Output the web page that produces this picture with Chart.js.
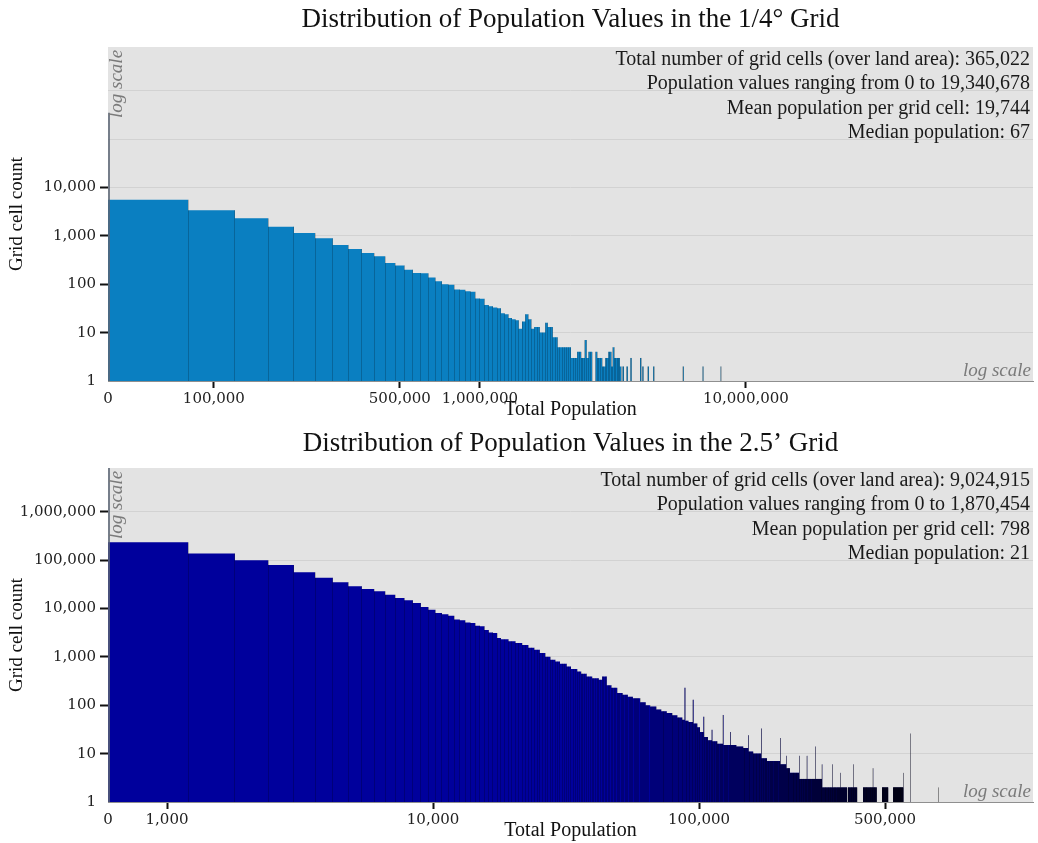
<!DOCTYPE html>
<html>
<head>
<meta charset="utf-8">
<script src="https://cdn.jsdelivr.net/npm/chart.js@4"></script>
<style>
  body { margin: 0; background: #fff; }
  .box { position: absolute; left: 0; width: 1038px; }
  #boxTop { top: 0; height: 422px; }
  #boxBottom { top: 422px; height: 421px; }
</style>
</head>
<body>
<div class="box" id="boxTop"><canvas id="chartTop"></canvas></div>
<div class="box" id="boxBottom"><canvas id="chartBottom"></canvas></div>
<script>
// shared y axis (grid cell count, log scale)
const yMin = 1;
const yMax = 8000000;
const yTickValues = [1, 10, 100, 1000, 10000, 100000, 1000000];

// ---- 1/4 degree grid ----
const topTitle = 'Distribution of Population Values in the 1/4° Grid';
const topStats = [
  'Total number of grid cells (over land area): 365,022',
  'Population values ranging from 0 to 19,340,678',
  'Mean population per grid cell: 19,744',
  'Median population: 67'
];
const topBinWidth = 40000;
const topZeroBin = 350000;   // cells in the first bin (from 0), drawn as the line on the left edge
// bin index where a run starts (bin k covers k*width .. (k+1)*width) and its count
const topBinStart = [1, 2, 3, 4, 5, 6, 7, 8, 9, 10, 11, 12, 13, 14, 15, 16, 17, 18, 19, 20,
  21, 22, 23, 24, 25, 26, 27, 28, 29, 30, 31, 32, 33, 34, 35, 36, 37, 38, 39, 40,
  41, 42, 43, 44, 45, 46, 47, 48, 49, 50, 51, 52, 53, 54, 55, 56, 57, 58, 59, 60,
  61, 62, 63, 64, 65, 66, 68, 69, 72, 74, 76, 78, 79, 80, 84, 85, 86, 87, 89, 90,
  92, 93, 100, 101, 102, 103, 107, 108, 112, 113, 145, 146, 172, 173, 201];
const topCounts = [5600, 3400, 2300, 1550, 1140, 890, 650, 535, 442, 378, 275, 245, 200, 171, 168, 137, 115, 100, 98, 78,
  77, 72, 70, 51, 50, 37, 35, 33, 32, 25, 24, 20, 19, 18, 12, 17, 24, 19, 12, 13,
  13, 10, 10, 16, 13, 13, 8, 8, 5, 5, 5, 5, 5, 5, 3, 3, 3, 4, 4, 3,
  3, 7, 3, 4, 4, 0, 4, 3, 2, 3, 4, 2, 5, 3, 2, 0, 2, 0, 2, 0,
  3, 0, 3, 0, 2, 0, 2, 0, 2, 0, 2, 0, 2, 0, 2];
const topLastBin = 202;
const topXTicks = [0, 100000, 500000, 1000000, 10000000];
const topYLabelMax = 10000;

// ---- 2.5 minute grid ----
const bottomTitle = 'Distribution of Population Values in the 2.5’ Grid';
const bottomStats = [
  'Total number of grid cells (over land area): 9,024,915',
  'Population values ranging from 0 to 1,870,454',
  'Mean population per grid cell: 798',
  'Median population: 21'
];
const bottomBinWidth = 600;
const bottomZeroBin = 8000000;
const bottomBinStart = [1, 2, 3, 4, 5, 6, 7, 8, 9, 10,
  11, 12, 13, 14, 15, 16, 17, 18, 19, 20,
  21, 22, 23, 24, 25, 26, 27, 28, 29, 30,
  32, 34, 36, 38, 40, 42, 44, 46, 48, 50,
  53, 55, 58, 60, 63, 66, 70, 72, 75, 78,
  82, 86, 90, 94, 100, 105, 109, 115, 120, 126,
  132, 138, 144, 147, 148, 152, 158, 159, 164, 168,
  173, 174, 180, 186, 187, 195, 205, 206, 218, 219,
  230, 244, 255, 256, 266, 285, 286, 300, 336, 337,
  354, 355, 366, 396, 397, 424, 425, 455, 456, 483,
  484, 527, 528, 565, 566, 600, 605, 632, 633, 654,
  689, 751, 752, 775, 812, 856, 894, 975, 976, 1035,
  1036, 1319];
const bottomCounts = [233000, 136000, 99000, 79000, 56000, 43000, 35000, 28700, 25300, 22800,
  19300, 16500, 14700, 13000, 10700, 9400, 8100, 7600, 7100, 5900,
  5700, 5150, 5000, 4400, 4300, 3600, 3200, 3100, 2450, 2300,
  2100, 1930, 1750, 1550, 1400, 1200, 1000, 871, 800, 720,
  632, 560, 499, 450, 393, 360, 336, 393, 260, 230,
  178, 165, 150, 140, 115, 100, 94, 82, 75, 69,
  62, 56, 50, 230, 48, 45, 130, 42, 35, 28,
  58, 22, 19, 31, 18, 16, 63, 15, 28, 15,
  14, 13, 24, 11, 10, 33, 8, 7, 21, 6,
  9, 5, 4, 9, 3, 9, 3, 14, 3, 6,
  2, 6, 2, 4, 2, 0, 2, 6, 2, 0,
  2, 5, 2, 0, 2, 0, 2, 4, 0, 26,
  0, 2];
const bottomLastBin = 1320;
const bottomXTicks = [0, 1000, 10000, 100000, 500000];
const bottomYLabelMax = 1000000;

const serif = 'Liberation Serif';
const numFont = 'DejaVu Serif';

const plotBackground = {
  id: 'plotBackground',
  beforeDraw(chart, args, o) {
    const {ctx, chartArea: a} = chart;
    ctx.save();
    ctx.fillStyle = o.color;
    ctx.fillRect(a.left, a.top, a.width, a.height);
    ctx.restore();
  }
};

// outline of every bin: thin dark edge up to the taller neighbour
const binEdges = {
  id: 'binEdges',
  afterDatasetsDraw(chart, args, o) {
    const {ctx, chartArea: a, scales: {x, y}} = chart;
    const countAt = k => {
      let c = 0;
      for (let i = 0; i < o.binStart.length && o.binStart[i] <= k; i++) c = o.counts[i];
      return k >= o.lastBin ? 0 : c;
    };
    const base = y.getPixelForValue(yMin);
    ctx.save();
    ctx.beginPath();
    ctx.rect(a.left, a.top, a.width, a.height);
    ctx.clip();
    ctx.lineWidth = 1;
    ctx.strokeStyle = o.color;
    for (let k = 2; k <= o.lastBin; k++) {
      const h = Math.max(countAt(k - 1), countAt(k));
      if (h <= yMin) continue;
      const px = Math.round(x.getPixelForValue(k * o.binWidth) - 0.5) + 0.5;
      ctx.beginPath();
      ctx.moveTo(px, base);
      ctx.lineTo(px, y.getPixelForValue(h));
      ctx.stroke();
    }
    // first bin (population from 0) sits on the left edge
    ctx.strokeStyle = o.zeroColor;
    ctx.lineWidth = 2;
    ctx.beginPath();
    ctx.moveTo(a.left + 1, base);
    ctx.lineTo(a.left + 1, y.getPixelForValue(o.zeroBin));
    ctx.stroke();
    ctx.restore();
  }
};

const plotNotes = {
  id: 'plotNotes',
  afterDraw(chart, args, o) {
    const {ctx, chartArea: a} = chart;
    ctx.save();
    ctx.fillStyle = '#1a1a1a';
    ctx.font = '20px "' + serif + '"';
    ctx.textAlign = 'right';
    ctx.textBaseline = 'alphabetic';
    o.lines.forEach((t, i) => ctx.fillText(t, a.right - 3, a.top + 18 + i * 24.3));
    ctx.fillStyle = '#7a7a7a';
    ctx.font = 'italic 19px "' + serif + '"';
    ctx.fillText('log scale', a.right - 2, a.bottom - 5);
    ctx.translate(a.left + 14, a.top + 71);
    ctx.rotate(-Math.PI / 2);
    ctx.textAlign = 'left';
    ctx.fillText('log scale', 0, 0);
    ctx.restore();
  }
};

function histogram(id, h) {
  const xMin = h.binWidth;
  const xMax = h.binWidth * 3000;
  const points = h.binStart.map((k, i) => ({x: k * h.binWidth, y: Math.max(h.counts[i], yMin)}));
  points.push({x: h.lastBin * h.binWidth, y: yMin});
  return new Chart(document.getElementById(id), {
    type: 'line',
    data: {
      datasets: [{
        data: points,
        stepped: true,
        fill: 'start',
        backgroundColor: h.color,
        borderColor: 'rgba(0,0,0,0)',
        borderWidth: 0,
        pointRadius: 0
      }]
    },
    options: {
      responsive: true,
      maintainAspectRatio: false,
      animation: false,
      layout: {padding: {left: 0, right: 5, top: 0, bottom: 0}},
      plugins: {
        legend: {display: false},
        tooltip: {enabled: false},
        title: {
          display: true,
          text: h.title,
          fullSize: false,
          color: '#111',
          font: {family: serif, size: 27, weight: 'normal'},
          padding: {top: h.titleTop, bottom: h.titleBottom}
        },
        plotBackground: {color: '#e3e3e3'},
        binEdges: {
          binStart: h.binStart, counts: h.counts, binWidth: h.binWidth, lastBin: h.lastBin,
          zeroBin: h.zeroBin, color: h.edgeColor, zeroColor: 'rgba(90,100,115,0.8)'
        },
        plotNotes: {lines: h.stats}
      },
      scales: {
        x: {
          type: 'logarithmic',
          min: xMin,
          max: xMax,
          afterBuildTicks: s => { s.ticks = h.xTicks.map(v => ({value: v === 0 ? xMin : v})); },
          afterFit: s => { s.height = 41; },
          ticks: {
            autoSkip: false,
            maxRotation: 0,
            padding: 2,
            color: '#222',
            font: {family: numFont, size: 15},
            callback: v => v === xMin ? '0' : Number(v).toLocaleString('en-US')
          },
          grid: {
            drawOnChartArea: false,
            tickLength: 7,
            tickWidth: 2,
            tickColor: c => c.index === 0 ? 'rgba(0,0,0,0)' : '#111'
          },
          border: {color: '#8f8f8f', width: 1},
          title: {
            display: true,
            text: 'Total Population',
            color: '#111',
            font: {family: serif, size: 20},
            padding: {top: 0, bottom: 0}
          }
        },
        y: {
          type: 'logarithmic',
          min: yMin,
          max: yMax,
          afterBuildTicks: s => { s.ticks = yTickValues.map(v => ({value: v})); },
          afterFit: s => { s.width = 108; },
          ticks: {
            padding: 4,
            color: '#222',
            font: {family: numFont, size: 15},
            callback: v => v > h.yLabelMax ? '' : Number(v).toLocaleString('en-US')
          },
          grid: {
            color: c => c.tick && c.tick.value === 1 ? 'rgba(0,0,0,0)' : '#d2d2d2',
            lineWidth: 1,
            tickLength: 8,
            tickWidth: 2,
            tickColor: c => (c.tick && (c.tick.value > h.yLabelMax || c.tick.value === 1)) ? 'rgba(0,0,0,0)' : '#111'
          },
          border: {display: false},
          title: {
            display: true,
            text: 'Grid cell count',
            color: '#111',
            font: {family: serif, size: 19},
            padding: {top: 6, bottom: 0}
          }
        }
      }
    },
    plugins: [plotBackground, binEdges, plotNotes]
  });
}

histogram('chartTop', {
  title: topTitle, stats: topStats, binWidth: topBinWidth, zeroBin: topZeroBin,
  binStart: topBinStart, counts: topCounts, lastBin: topLastBin,
  xTicks: topXTicks, yLabelMax: topYLabelMax,
  color: '#0a7fc1', edgeColor: 'rgba(0,0,0,0.2)', titleTop: 4, titleBottom: 10.6
});

histogram('chartBottom', {
  title: bottomTitle, stats: bottomStats, binWidth: bottomBinWidth, zeroBin: bottomZeroBin,
  binStart: bottomBinStart, counts: bottomCounts, lastBin: bottomLastBin,
  xTicks: bottomXTicks, yLabelMax: bottomYLabelMax,
  color: '#00009c', edgeColor: 'rgba(0,0,0,0.22)', titleTop: 6, titleBottom: 7.6
});
</script>
</body>
</html>
